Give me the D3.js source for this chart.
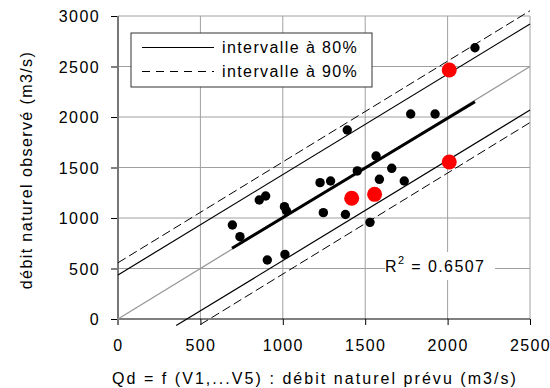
<!DOCTYPE html>
<html>
<head>
<meta charset="utf-8">
<script src="https://cdn.jsdelivr.net/npm/d3@7"></script>
<style>
  body { margin: 0; background: #fff; }
  text { font-family: "Liberation Sans", Arial, sans-serif; font-size: 16px; letter-spacing: 1.4px; fill: #000; }
</style>
</head>
<body>
<div id="chart"></div>
<script>
// observed vs predicted flows (m3/s)
var obsPred  = [694, 740, 906, 857, 896, 1013, 1010, 1022, 1226, 1290, 1246, 1380, 1452, 1391, 1776, 1924, 1566, 1661, 1586, 1737, 1529, 2166];
var obsValue = [931, 815, 584, 1178, 1218, 640, 1112, 1072, 1350, 1366, 1053, 1035, 1466, 1871, 2030, 2030, 1614, 1492, 1383, 1366, 957, 2686];

// highlighted years (red)
var redPred  = [1418, 1557, 2010, 2010];
var redValue = [1195, 1234, 1554, 2465];

// regression + intervals, as [x, y] ends
var regLine   = [[692, 700], [2166, 2151]];
var identity  = [[0, 0], [2500, 2500]];
var upper80   = [[0, 436], [2500, 2921]];
var lower80   = [[353, -65], [2500, 2069]];
var upper90   = [[0, 557], [2500, 3052]];
var lower90   = [[500, -55], [2500, 1945]];

var xTicks = [0, 500, 1000, 1500, 2000, 2500];
var yTicks = [0, 500, 1000, 1500, 2000, 2500, 3000];
var r2Label = "0.6507";

var width = 550, height = 388;
var margin = {top: 16, right: 20, bottom: 69, left: 118};

var svg = d3.select("#chart").append("svg")
    .attr("width", width)
    .attr("height", height);

var x = d3.scaleLinear().domain([0, 2500]).range([margin.left, width - margin.right]);
var y = d3.scaleLinear().domain([0, 3000]).range([height - margin.bottom, margin.top]);

// gridlines
svg.append("g").selectAll("line.gx")
    .data(xTicks.slice(1))
  .enter().append("line")
    .attr("x1", d => x(d)).attr("x2", d => x(d))
    .attr("y1", y(0)).attr("y2", y(3000))
    .style("stroke", "#a0a0a0").style("stroke-width", 1);

svg.append("g").selectAll("line.gy")
    .data(yTicks.slice(1))
  .enter().append("line")
    .attr("x1", x(0)).attr("x2", x(2500))
    .attr("y1", d => y(d)).attr("y2", d => y(d))
    .style("stroke", "#a0a0a0").style("stroke-width", 1);

// axes
var xAxis = svg.append("g")
    .attr("transform", "translate(0," + y(0) + ")")
    .call(d3.axisBottom(x).tickValues(xTicks).tickSize(6).tickPadding(15).tickFormat(d3.format("d")));
var yAxis = svg.append("g")
    .attr("transform", "translate(" + x(0) + ",0)")
    .call(d3.axisLeft(y).tickValues(yTicks).tickSize(7).tickPadding(11).tickFormat(d3.format("d")));

[xAxis, yAxis].forEach(function(a) {
  a.selectAll("text").style("font-size", "16px").style("fill", "#000").style("font-family", null);
  a.select(".domain").remove();
  a.selectAll(".tick line").style("stroke", "#000");
});
yAxis.selectAll(".tick text").attr("dy", "0.36em");

svg.append("line")
    .attr("x1", x(0)).attr("x2", x(2500))
    .attr("y1", y(0)).attr("y2", y(0))
    .style("stroke", "#000").style("stroke-width", 1.2);
svg.append("line")
    .attr("x1", x(0)).attr("x2", x(0))
    .attr("y1", y(3000)).attr("y2", y(0) + 6)
    .style("stroke", "#777").style("stroke-width", 2);

// R2 label with white box
var r2g = svg.append("g");
r2g.append("rect")
    .attr("x", 385).attr("y", 252).attr("width", 110).attr("height", 28)
    .style("fill", "#fff");
var r2t = r2g.append("text")
    .attr("x", 385).attr("y", 272);
r2t.append("tspan").text("R");
r2t.append("tspan").attr("dy", -8).style("font-size", "11px").text("2");
r2t.append("tspan").attr("dy", 8).text(" = " + r2Label);

// lines
var line = d3.line().x(d => x(d[0])).y(d => y(d[1]));

svg.append("path").attr("d", line(identity))
    .style("fill", "none").style("stroke", "#999").style("stroke-width", 1.3);
svg.append("path").attr("d", line(upper80))
    .style("fill", "none").style("stroke", "#000").style("stroke-width", 1.2);
svg.append("path").attr("d", line(lower80))
    .style("fill", "none").style("stroke", "#000").style("stroke-width", 1.2);
svg.append("path").attr("d", line(upper90))
    .style("fill", "none").style("stroke", "#000").style("stroke-width", 1).style("stroke-dasharray", "9,4");
svg.append("path").attr("d", line(lower90))
    .style("fill", "none").style("stroke", "#000").style("stroke-width", 1).style("stroke-dasharray", "9,4");
svg.append("path").attr("d", line(regLine))
    .style("fill", "none").style("stroke", "#000").style("stroke-width", 3);

// points
svg.append("g").selectAll("circle")
    .data(d3.zip(obsPred, obsValue))
  .enter().append("circle")
    .attr("cx", d => x(d[0])).attr("cy", d => y(d[1])).attr("r", 4.7)
    .style("fill", "#000");

svg.append("g").selectAll("circle")
    .data(d3.zip(redPred, redValue))
  .enter().append("circle")
    .attr("cx", d => x(d[0])).attr("cy", d => y(d[1])).attr("r", 7.5)
    .style("fill", "#ff0000");

// legend
var legend = svg.append("g");
legend.append("rect")
    .attr("x", 131).attr("y", 33).attr("width", 241).attr("height", 54)
    .style("fill", "#fff").style("stroke", "#333").style("stroke-width", 1);
var legendItems = [
  {label: "intervalle à 80%", dash: null},
  {label: "intervalle à 90%", dash: "8,6"}
];
legend.selectAll("g.item")
    .data(legendItems)
  .enter().append("g")
    .each(function(d, i) {
      var g = d3.select(this);
      var ly = 47.5 + i * 24;
      g.append("line")
          .attr("x1", 142).attr("x2", 214).attr("y1", ly).attr("y2", ly)
          .style("stroke", "#000").style("stroke-width", 1.2)
          .style("stroke-dasharray", d.dash);
      g.append("text")
          .attr("x", 222).attr("y", ly + 5.5)
          .text(d.label);
    });

// axis titles
svg.append("text")
    .attr("x", 315).attr("y", 384)
    .attr("text-anchor", "middle")
    .style("letter-spacing", "2.05px")
    .text("Qd = f (V1,...V5) : débit naturel prévu (m3/s)");

svg.append("text")
    .attr("transform", "translate(32," + 170 + ") rotate(-90)")
    .attr("text-anchor", "middle")
    .text("débit naturel observé (m3/s)");
</script>
</body>
</html>
